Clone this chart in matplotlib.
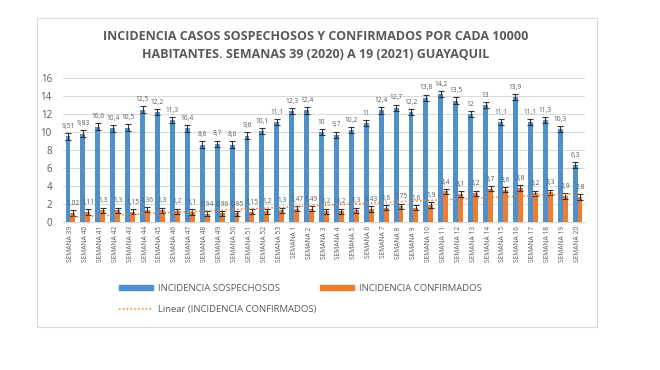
import numpy as np
import matplotlib.pyplot as plt
from matplotlib.patches import Rectangle, Patch
from matplotlib.lines import Line2D

# Semanas 39 (2020) a 20 (2021)
semanas = [f"SEMANA {s}" for s in list(range(39, 54)) + list(range(1, 21))]

sospechosos = [9.51, 9.83, 10.6, 10.4, 10.5, 12.5, 12.2, 11.3, 10.4, 8.6, 8.7, 8.6,
               9.6, 10.1, 11.1, 12.3, 12.4, 10, 9.7, 10.2, 11, 12.4, 12.7, 12.2,
               13.8, 14.2, 13.5, 12, 13, 11.1, 13.9, 11.1, 11.3, 10.3, 6.3]
confirmados = [1.02, 1.11, 1.3, 1.3, 1.15, 1.36, 1.3, 1.2, 1.1, 0.94, 0.96, 0.95,
               1.15, 1.2, 1.3, 1.47, 1.49, 1.2, 1.2, 1.3, 1.43, 1.6, 1.75, 1.6,
               1.9, 3.4, 3.1, 3.2, 3.7, 3.6, 3.8, 3.2, 3.3, 2.9, 2.8]

err_sosp = 0.35
err_conf = 0.3

gris = "#595959"
azul = "#4f8fcc"
naranja = "#ed7d31"

plt.rcParams['font.family'] = ['Open Sans', 'DejaVu Sans']

fig = plt.figure(figsize=(6.6, 3.7), dpi=100)
fig.add_artist(Rectangle((37 / 660, 1 - 327 / 370), 560 / 660, 309 / 370,
                         transform=fig.transFigure, fill=False,
                         edgecolor="#d9d9d9", linewidth=0.8))

ax = fig.add_axes([63 / 660, 1 - 222 / 370, 522 / 660, 144 / 370])

x = np.arange(len(semanas))
w = 0.33
ax.bar(x - w / 2, sospechosos, width=w, color=azul, zorder=3,
       yerr=err_sosp, capsize=2.2, error_kw=dict(ecolor="#333333", elinewidth=0.8, capthick=0.8))
ax.bar(x + w / 2, confirmados, width=w, color=naranja, zorder=3,
       yerr=err_conf, capsize=2.2, error_kw=dict(ecolor="#333333", elinewidth=0.8, capthick=0.8))

def fmt(v):
    return f"{v:g}".replace(".", ",")

for i in range(len(x)):
    ax.text(x[i] - w / 2, sospechosos[i] + err_sosp + 0.35, fmt(sospechosos[i]),
            ha="center", va="bottom", fontsize=4.8, color=gris, zorder=4)
    ax.text(x[i] + w / 2, confirmados[i] + err_conf + 0.35, fmt(confirmados[i]),
            ha="center", va="bottom", fontsize=4.8, color=gris, zorder=4)

# Linea de tendencia lineal de confirmados
m, b = np.polyfit(x, confirmados, 1)
ax.plot(x + w / 2, m * x + b, color=naranja, linestyle=(0, (1, 1.5)),
        linewidth=1.1, zorder=5)

ax.set_xlim(-0.5, len(x) - 0.5)
ax.set_ylim(0, 16)
ax.set_yticks(range(0, 17, 2))
ax.set_xticks(x)
ax.set_xticklabels(semanas, rotation=90, fontsize=4.8, color=gris)
ax.tick_params(axis="y", labelsize=7, colors=gris, length=0, pad=8)
ax.tick_params(axis="x", length=0, pad=3)
ax.grid(axis="y", color="#d9d9d9", linewidth=0.7, zorder=0)
for s in ["top", "right", "left"]:
    ax.spines[s].set_visible(False)
ax.spines["bottom"].set_color("#d9d9d9")

fig.text(316 / 660, 1 - 37 / 370, "INCIDENCIA CASOS SOSPECHOSOS Y CONFIRMADOS POR CADA 10000",
         ha="center", va="center", fontsize=9, fontweight="bold", color=gris)
fig.text(316 / 660, 1 - 55 / 370, "HABITANTES. SEMANAS 39 (2020) A 19 (2021) GUAYAQUIL",
         ha="center", va="center", fontsize=9, fontweight="bold", color=gris)

leg_kw = dict(frameon=False, fontsize=6.8, loc="upper left",
              handlelength=3.6, handleheight=0.5, labelspacing=1.3,
              handletextpad=0.5, borderpad=0, borderaxespad=0)
leg1 = fig.legend([Patch(color=azul),
                   Line2D([], [], color=naranja, linestyle=(0, (1, 1.5)), linewidth=1.1)],
                  ["INCIDENCIA SOSPECHOSOS", "Linear (INCIDENCIA CONFIRMADOS)"],
                  bbox_to_anchor=(119 / 660, 1 - 284 / 370), **leg_kw)
leg2 = fig.legend([Patch(color=naranja)], ["INCIDENCIA CONFIRMADOS"],
                  bbox_to_anchor=(320 / 660, 1 - 284 / 370), **leg_kw)
for lg in (leg1, leg2):
    for t in lg.get_texts():
        t.set_color(gris)

fig.savefig("out.png", dpi=100)
